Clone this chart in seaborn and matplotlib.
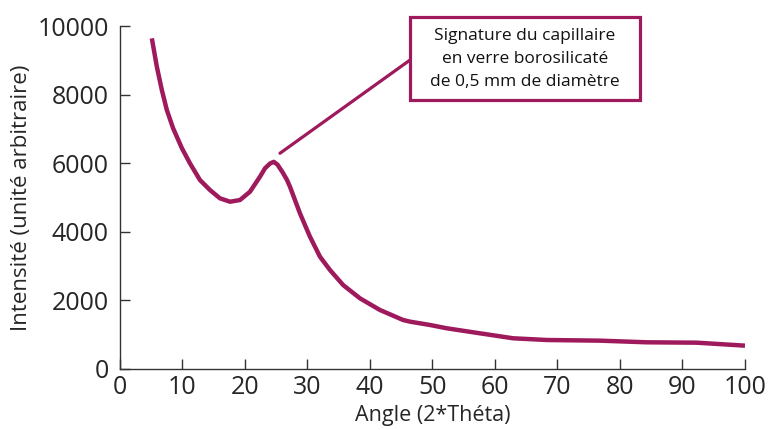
import matplotlib
matplotlib.use("Agg")
import matplotlib.pyplot as plt
from matplotlib.patches import Rectangle
import seaborn as sns
import pandas as pd

angle = [5.1, 5.9, 6.7, 7.5, 8.5, 9.9, 11.2, 12.8, 14.4, 16, 17.6, 19.2, 20.8,
         22.4, 23.2, 24.0, 24.6, 25.2, 26.0, 26.7, 27.2, 28.8, 30.4, 32, 33.6,
         35.7, 38.4, 41.6, 45.3, 46.4, 49.6, 52.3, 57.6, 62.9, 68.3, 76.8,
         84.3, 92.3, 100]
intensity = [9640, 8812, 8133, 7550, 7020, 6440, 5996, 5509, 5218, 4976, 4877,
             4926, 5168, 5606, 5850, 5990, 6040, 5960, 5740, 5520, 5314, 4538,
             3857, 3274, 2886, 2449, 2060, 1720, 1428, 1380, 1283, 1186, 1040,
             895, 845, 826, 778, 767, 680]

xticks = [0, 10, 20, 30, 40, 50, 60, 70, 80, 90, 100]
yticks = [0, 2000, 4000, 6000, 8000, 10000]
xlabel = "Angle (2*Théta)"
ylabel = "Intensité (unité arbitraire)"
note = "Signature du capillaire\nen verre borosilicaté\nde 0,5 mm de diamètre"

color = "#9E1A5C"

sns.set_style("ticks")
plt.rcParams["font.family"] = ["Open Sans", "DejaVu Sans"]

fig = plt.figure(figsize=(7.72, 4.30), dpi=100)
ax = fig.add_axes([0.1554, 0.1419, 0.8096, 0.7976])

df = pd.DataFrame({"angle": angle, "intensity": intensity})
sns.lineplot(data=df, x="angle", y="intensity", ax=ax, color=color, lw=3.2,
             solid_joinstyle="round", solid_capstyle="butt")

ax.set_xlim(0, 100)
ax.set_ylim(0, 10000)
ax.set_xticks(xticks)
ax.set_yticks(yticks)
ax.tick_params(direction="in", length=7, width=1, labelsize=18, color="#333333")
ax.tick_params(axis="y", pad=8)
ax.tick_params(axis="x", pad=4)
for s in ["top", "right"]:
    ax.spines[s].set_visible(False)
for s in ["left", "bottom"]:
    ax.spines[s].set_linewidth(1)
    ax.spines[s].set_color("#333333")

ax.set_xlabel(xlabel, fontsize=15.5, labelpad=4)
ax.set_ylabel(ylabel, fontsize=16, labelpad=4)

ax.annotate("", xy=(25.6, 6290), xytext=(46.4, 9007),
            arrowprops=dict(arrowstyle="-", color=color, lw=2.3, shrinkA=0, shrinkB=0))
ax.add_patch(Rectangle((46.4, 7841), 83.2 - 46.4, 10252 - 7841, fill=True,
                       facecolor="white", edgecolor=color, lw=2.3, clip_on=False))
ax.text(64.8, 9046, note, ha="center", va="center", fontsize=12.5,
        linespacing=1.6, color="#111111")

fig.savefig("out.png", dpi=100)
